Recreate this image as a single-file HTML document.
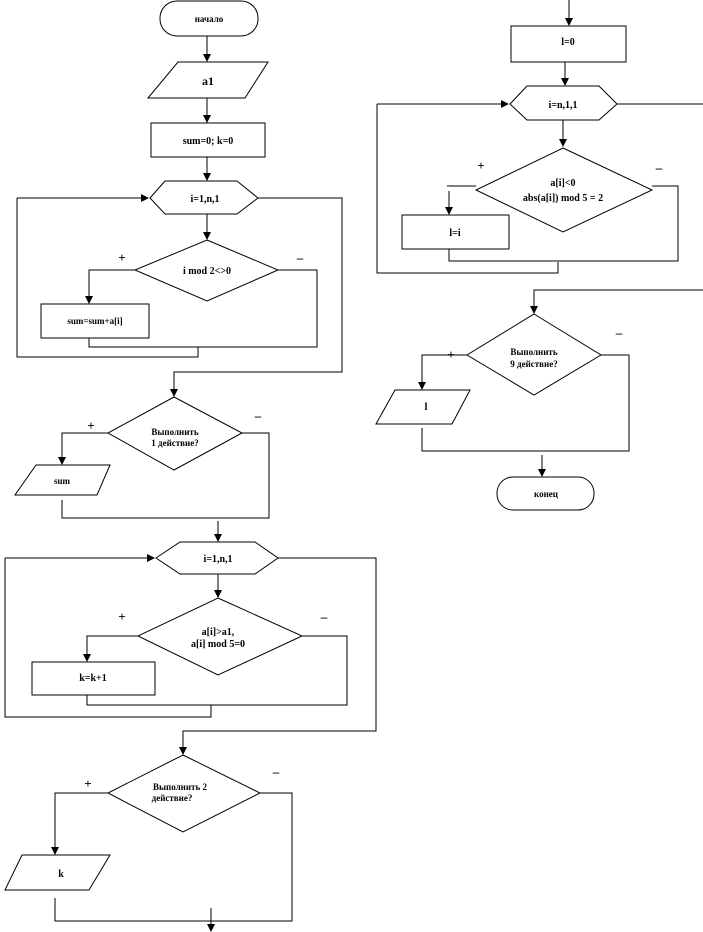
<!DOCTYPE html>
<html><head><meta charset="utf-8"><style>
html,body{margin:0;padding:0;background:#fff;}
svg{display:block;}
text{font-family:"Liberation Serif",serif;font-weight:bold;font-size:10px;fill:#000;text-anchor:middle;}
.s{font-size:9px;}
.b{font-size:12px;}
.p{font-size:13px;}
</style></head><body>
<svg width="703" height="932" viewBox="0 0 703 932" xmlns="http://www.w3.org/2000/svg">
<defs>
<marker id="r" markerWidth="8" markerHeight="8" refX="7" refY="4" orient="auto" markerUnits="userSpaceOnUse"><path d="M0,0 L8,4 L0,8 z" fill="#000"/></marker></defs>
<g fill="none" stroke="#000" stroke-width="1">
<rect x="160" y="1" width="98" height="35" rx="17"/>
<path d="M207 36V61" marker-end="url(#r)"/>
<path d="M178 62H268L245 98H148Z"/>
<path d="M207 98V122" marker-end="url(#r)"/>
<rect x="151" y="123" width="114" height="34"/>
<path d="M207 157V180" marker-end="url(#r)"/>
<path d="M150 198L165 181H237L258 198L237 214H165Z"/>
<path d="M17 198H148" marker-end="url(#r)"/>
<path d="M17 198V357H198V347"/>
<path d="M258 198H342V372H174V396" marker-end="url(#r)"/>
<path d="M207 214V239" marker-end="url(#r)"/>
<path d="M207 240L278 270L207 301L135 270Z"/>
<path d="M135 270H89V303" marker-end="url(#r)"/>
<rect x="41" y="304" width="108" height="34"/>
<path d="M89 338V347H317V270H278"/>
<path d="M174 397L242 433L174 470L108 433Z"/>
<path d="M108 433H62V464" marker-end="url(#r)"/>
<path d="M36 465H110L97 495H15Z"/>
<path d="M62 500V518H269V433H242"/>
<path d="M218 521V541" marker-end="url(#r)"/>
<path d="M156 558L180 542H255L278 558L255 574H180Z"/>
<path d="M5 558H154" marker-end="url(#r)"/>
<path d="M5 558V717H211V705"/>
<path d="M278 558H376V731H183V754" marker-end="url(#r)"/>
<path d="M218 574V597" marker-end="url(#r)"/>
<path d="M218 598L302 636L218 675L138 636Z"/>
<path d="M138 636H87V661" marker-end="url(#r)"/>
<rect x="32" y="662" width="123" height="33"/>
<path d="M87 695V705H347V636H302"/>
<path d="M183 755L260 793L183 832L108 793Z"/>
<path d="M108 793H55V854" marker-end="url(#r)"/>
<path d="M22 855H110L89 890H5Z"/>
<path d="M55 898V921H292V793H260"/>
<path d="M211 908V931" marker-end="url(#r)"/>
<path d="M569 0V25" marker-end="url(#r)"/>
<rect x="511" y="26" width="115" height="36"/>
<path d="M565 62V85" marker-end="url(#r)"/>
<path d="M510 104L527 86H599L617 104L599 120H527Z"/>
<path d="M377 104H508" marker-end="url(#r)"/>
<path d="M377 104V273H558V262"/>
<path d="M617 104H703"/>
<path d="M703 290H534V313" marker-end="url(#r)"/>
<path d="M563 120V146" marker-end="url(#r)"/>
<path d="M563 148L652 190L563 232L476 190Z"/>
<path d="M476 186H447"/>
<path d="M449 191V214" marker-end="url(#r)"/>
<rect x="402" y="215" width="107" height="34"/>
<path d="M449 249V261H678V186H652"/>
<path d="M534 314L601 355L534 395L467 355Z"/>
<path d="M467 355H422V389" marker-end="url(#r)"/>
<path d="M395 390H470L452 424H376Z"/>
<path d="M422 428V451H629V355H601"/>
<path d="M542 455V476" marker-end="url(#r)"/>
<rect x="497" y="477" width="97" height="33" rx="16"/>
</g>
<text x="209" y="22" class="s">начало</text>
<text x="208" y="85" class="b">a1</text>
<text x="208" y="144">sum=0; k=0</text>
<text x="205" y="202">i=1,n,1</text>
<text x="207" y="274">i mod 2&lt;&gt;0</text>
<text x="122" y="262" class="p">+</text><text x="300" y="262" class="p">–</text>
<text x="95" y="324" class="s">sum=sum+a[i]</text>
<text x="175" y="435" class="s">Выполнить</text>
<text x="175" y="446" class="s">1 действие?</text>
<text x="91" y="430" class="p">+</text><text x="258" y="420" class="p">–</text>
<text x="62" y="484" class="s">sum</text>
<text x="218" y="562">i=1,n,1</text>
<text x="218" y="635">a[i]&gt;a1,</text>
<text x="218" y="647">a[i] mod 5=0</text>
<text x="122" y="621" class="p">+</text><text x="324" y="621" class="p">–</text>
<text x="93" y="681">k=k+1</text>
<text x="180" y="790" class="s">Выполнить 2</text>
<text x="172" y="801" class="s">действие?</text>
<text x="88" y="788" class="p">+</text><text x="276" y="776" class="p">–</text>
<text x="61" y="877">k</text>
<text x="568" y="45">l=0</text>
<text x="563" y="108">i=n,1,1</text>
<text x="563" y="186">a[i]&lt;0</text>
<text x="563" y="201">abs(a[i]) mod 5 = 2</text>
<text x="481" y="170" class="p">+</text><text x="659" y="172" class="p">–</text>
<text x="455" y="236">l=i</text>
<text x="534" y="355" class="s">Выполнить</text>
<text x="534" y="367" class="s">9 действие?</text>
<text x="451" y="359" class="p">+</text><text x="619" y="337" class="p">–</text>
<text x="426" y="410">l</text>
<text x="546" y="497" class="s">конец</text>
</svg>
</body></html>
